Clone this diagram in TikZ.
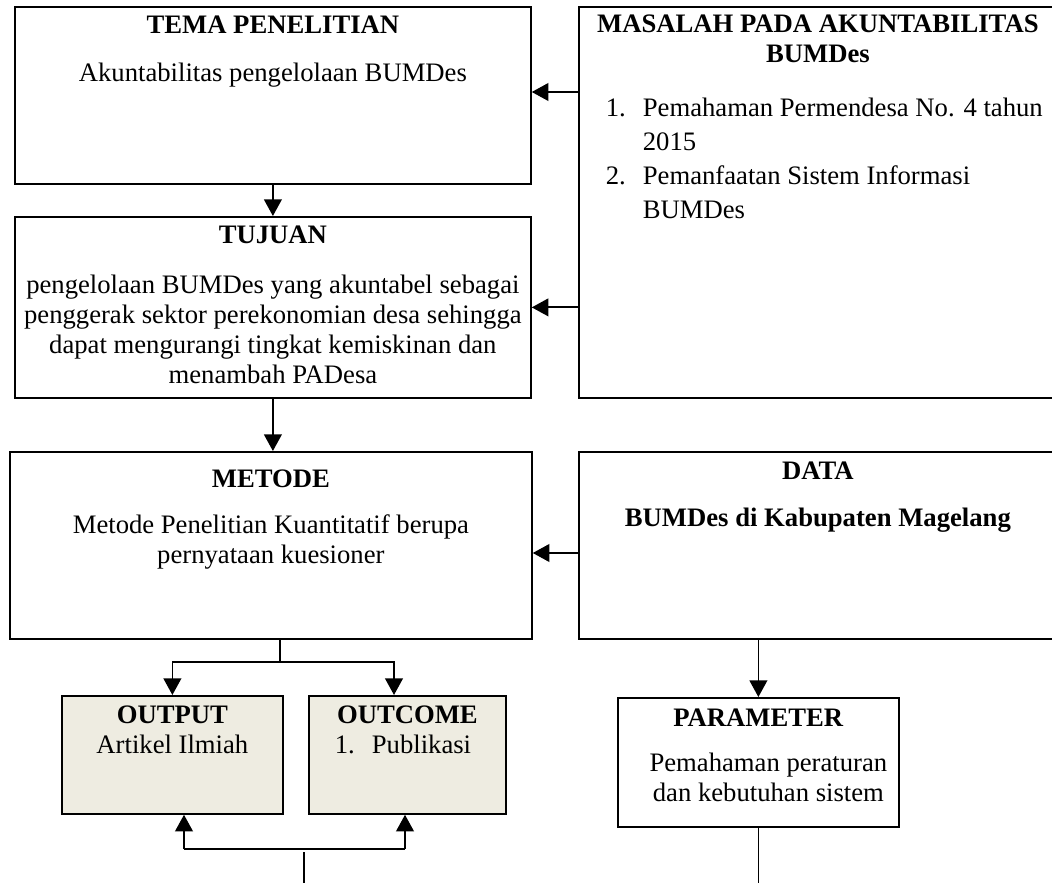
\documentclass[tikz,border=0pt]{standalone}
\usepackage{fontspec}
\setmainfont{Liberation Serif}
\usepackage{tikz}
\usetikzlibrary{arrows.meta}
\newlength{\upx}
\setlength{\upx}{0.45pt}
\definecolor{krem}{HTML}{EEECE1}
\newcommand{\isi}[3]{\begin{minipage}[t][#2\upx][t]{#1\upx}\centering #3\end{minipage}}
\tikzset{
kotak/.style={draw, line width=0.8pt, inner sep=0, anchor=north west, font=\fontsize{12}{13.5}\selectfont}, hasil/.style={kotak, fill=krem}}

\begin{document}
\begin{tikzpicture}[x=0.45pt, y=-0.45pt, >={Triangle[length=7.5pt, width=8pt]}, line width=0.8pt]
\useasboundingbox (0,0) rectangle (1052,883);
\node [kotak] (tema) at (14,6) {\isi{516}{177}{\rule{0pt}{27\upx}\textbf{TEMA PENELITIAN}\\[18\upx]
 Akuntabilitas pengelolaan BUMDes}};
\node [kotak] (tujuan) at (14,216) {\isi{516}{181}{\rule{0pt}{27\upx}\textbf{TUJUAN}\\[20\upx]
 pengelolaan BUMDes yang akuntabel sebagai\\ penggerak sektor perekonomian desa sehingga\\
 dapat mengurangi tingkat kemiskinan dan\\ menambah PADesa}};
\node [kotak] (masalah) at (578,6) {\isi{478}{391}{\rule{0pt}{26\upx}\textbf{MASALAH PADA AKUNTABILITAS}\\
 \textbf{BUMDes}\par\vspace{24\upx}
 \leftskip=27\upx \rightskip=0pt plus 1fil
 \makebox[37\upx][l]{1.}Pemahaman Permendesa No. 4 tahun\\[4\upx]
 \hspace*{37\upx}2015\\[4\upx]
 \makebox[37\upx][l]{2.}Pemanfaatan Sistem Informasi\\[4\upx]
 \hspace*{37\upx}BUMDes\par}};
\node [kotak] (metode) at (9,451) {\isi{522}{187}{\rule{0pt}{36\upx}\textbf{METODE}\\[16\upx]
 Metode Penelitian Kuantitatif berupa\\ pernyataan kuesioner}};
\node [kotak] (data) at (578,451) {\isi{478}{187}{\rule{0pt}{28\upx}\textbf{DATA}\\[17\upx]
 \textbf{BUMDes di Kabupaten Magelang}}};
\node [hasil] (output) at (61,695) {\isi{221}{118}{\rule{0pt}{28\upx}\textbf{OUTPUT}\\ Artikel Ilmiah}};
\node [hasil] (outcome) at (308,695) {\isi{197}{118}{\rule{0pt}{28\upx}\textbf{OUTCOME}\par
 \leftskip=26\upx \rightskip=0pt plus 1fil \makebox[37\upx][l]{1.}Publikasi\par}};
\node [kotak] (param) at (617,697) {\isi{281}{129}{\rule{0pt}{29\upx}\textbf{PARAMETER}\\[15\upx]
 \hspace*{20\upx}Pemahaman peraturan\\ \hspace*{20\upx}dan kebutuhan sistem}};
% titik bantu
\coordinate (cabang) at (280,662);
\coordinate (kiri) at (184,849);
\coordinate (kanan) at (405,849);
\coordinate (ekor) at (304,852);
\coordinate (ujung) at (304,883);
\draw [->] (tema.south) -- (tujuan.north);
\draw [->] (tujuan.south) -- (tujuan.south |- metode.north);
\draw [->] (masalah.west |- 0,92) -- (tema.east |- 0,92);
\draw [->] (masalah.west |- tujuan) -- (tujuan.east);
\draw [->] (data.west |- 0,553) -- (metode.east |- 0,553);
\draw (cabang |- metode.south) -- (cabang);
\draw [->] (cabang) -| (output.north);
\draw [->] (cabang) -| (394,695);
\draw [->] (kiri) -- (kiri |- output.south);
\draw (kiri) -- (kanan);
\draw [->] (kanan) -- (kanan |- outcome.south);
\draw (ekor) -- (ujung);
\draw [->] (param.north |- data.south) -- (param.north);
\draw (param.south) -- (param.south |- ujung);
\end{tikzpicture}
\end{document}
